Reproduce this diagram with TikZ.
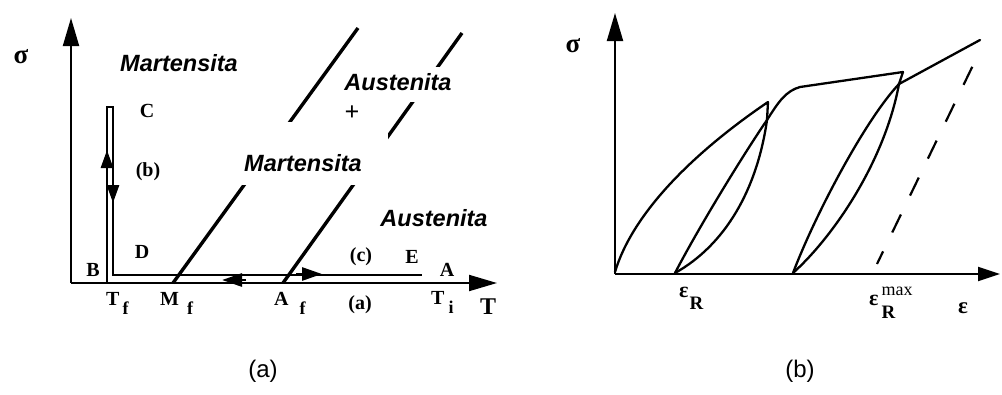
\documentclass[tikz,border=0pt]{standalone}
\usepackage{fontspec}
\setmainfont{Liberation Serif}
\newfontfamily\arialf{Liberation Sans}
\usetikzlibrary{arrows.meta}
\begin{document}
\begin{tikzpicture}[x=1pt,y=-1pt,
  axisln/.style={line width=2pt,-{Triangle[length=28pt,width=16pt]}},
  axisln2/.style={line width=2pt,-{Triangle[length=22pt,width=14pt]}},
  thk/.style={line width=2.8pt},
  diag/.style={line width=3.4pt},
  crv/.style={line width=2.3pt,line cap=round,line join=round},
  harrow/.style={line width=2.8pt,-{Triangle[length=20pt,width=13pt]}},
  lbl/.style={font=\arialf\bfseries\itshape\fontsize{23.5}{23.5}\selectfont,inner sep=0pt},
  ser/.style={font=\bfseries\fontsize{20}{20}\selectfont,inner sep=0pt},
  captext/.style={font=\arialf\fontsize{24}{24}\selectfont,inner sep=0pt}
]
\useasboundingbox (0,0) rectangle (1002,394);
% ---------------- left panel ----------------
\coordinate (O1) at (71,283);
\coordinate (Y1) at (71,18);
\coordinate (X1) at (497,283);
\draw[axisln] (O1) -- (Y1);
\draw[axisln] (O1) -- (X1);
\coordinate (Bb) at (107,283);
\coordinate (Ct1) at (107,107);
\coordinate (Ct2) at (113,107);
\coordinate (Dd) at (113,275);
\coordinate (Ee) at (422,275);
\draw[thk] (Bb) -- (Ct1) -- (Ct2) -- (Dd) -- (Ee);
% arrows on path
\coordinate (ua1) at (107,172); \coordinate (ua2) at (107,150);
\draw[thk,-{Triangle[length=18pt,width=12pt]}] (ua1) -- (ua2);
\coordinate (da1) at (113,180); \coordinate (da2) at (113,203);
\draw[thk,-{Triangle[length=18pt,width=12pt]}] (da1) -- (da2);
\coordinate (la1) at (246,280); \coordinate (la2) at (222,280);
\draw[harrow] (la1) -- (la2);
\coordinate (ra1) at (296,274); \coordinate (ra2) at (322,274);
\draw[harrow] (ra1) -- (ra2);
% transformation lines
\coordinate (Mf) at (173,283); \coordinate (Mtop) at (358,28);
\coordinate (Af) at (283,283); \coordinate (Atop) at (462,33);
\draw[diag] (Mf) -- (Mtop);
\draw[diag] (Af) -- (Atop);
% white label backgrounds
\fill[white] (222,122) rectangle (388,185);
\fill[white] (335,67) rectangle (482,102);
% region labels
\node[lbl] (mart1) at (179,63) {Martensita};
\node[lbl] (aust1) at (398,82) {Austenita};
\node[ser] (plus) at (352,113) {\fontsize{26}{26}\selectfont +};
\node[lbl] (mart2) at (303,163) {Martensita};
\node[lbl] (aust2) at (434,218) {Austenita};
% point labels
\node[ser] (sig1) at (21,57) {\fontsize{27}{27}\selectfont σ};
\node[ser] (lC) at (147,111) {C};
\node[ser] (lb) at (148,172) {(b)};
\node[ser] (lD) at (142,252) {D};
\node[ser] (lB) at (93,270) {B};
\node[ser] (lc) at (361,257) {(c)};
\node[ser] (lE) at (412,257) {E};
\node[ser] (lA) at (447,270) {A};
\node[ser,anchor=base west] (Tf) at (106,305) {T\hspace{3pt}\raisebox{-9pt}{\fontsize{18}{18}\selectfont f}};
\node[ser,anchor=base west] (lMf) at (160,305) {M\hspace{8pt}\raisebox{-9pt}{\fontsize{18}{18}\selectfont f}};
\node[ser,anchor=base west] (lAf) at (274,305) {A\hspace{11pt}\raisebox{-9pt}{\fontsize{18}{18}\selectfont f}};
\node[ser] (la) at (360,305) {(a)};
\node[ser,anchor=base west] (Ti) at (431,304) {T\hspace{4pt}\raisebox{-9pt}{\fontsize{18}{18}\selectfont i}};
\node[ser] (lT) at (488,307) {\fontsize{24}{24}\selectfont T};
% ---------------- right panel ----------------
\coordinate (O2) at (615,274);
\coordinate (Y2) at (615,13);
\coordinate (X2) at (1000,274);
\draw[axisln] (O2) -- (Y2);
\draw[axisln2] (O2) -- (X2);
\coordinate (S0) at (615,272);
\coordinate (P1) at (768,102);
\coordinate (J1) at (767,120);
\coordinate (R1) at (675,273);
\draw[crv] (S0) .. controls (632,215) and (690,155) .. (P1) -- (J1);
\draw[crv] (R1) .. controls (700,225) and (745,152) .. (J1);
\draw[crv] (R1) .. controls (725,245) and (757,190) .. (J1);
\coordinate (K) at (800,87);
\coordinate (P2) at (903,72);
\coordinate (J2) at (899,84);
\coordinate (R2) at (793,273);
\coordinate (End) at (980,40);
\draw[crv] (J1) .. controls (779,101) and (786,91) .. (K) -- (P2) -- (J2);
\draw[crv] (R2) .. controls (815,215) and (865,120) .. (J2);
\draw[crv] (R2) .. controls (835,235) and (885,160) .. (J2);
\draw[crv] (J2) -- (End);
\coordinate (d1) at (877,264);
\coordinate (d2) at (977,57);
\draw[line width=2.2pt,dash pattern=on 20pt off 21pt,dash phase=6pt] (d1) -- (d2);
\node[ser] (sig2) at (573,46) {\fontsize{27}{27}\selectfont σ};
\node[ser,anchor=base west] (eR) at (679,297) {\fontsize{22}{22}\selectfont ε\hspace{1pt}\raisebox{-12pt}{\fontsize{19}{19}\selectfont R}};
\node[ser,anchor=base west] (eRmax) at (869,305) {\fontsize{22}{22}\selectfont ε\hspace{3pt}\rlap{\raisebox{10pt}{\mdseries\fontsize{18}{18}\selectfont max}}\raisebox{-13pt}{\fontsize{19}{19}\selectfont R}};
\node[ser] (eps) at (963,308) {\fontsize{23}{23}\selectfont ε};
% captions
\node[captext] (capa) at (263,371) {(a)};
\node[captext] (capb) at (800,371) {(b)};
\end{tikzpicture}
\end{document}
